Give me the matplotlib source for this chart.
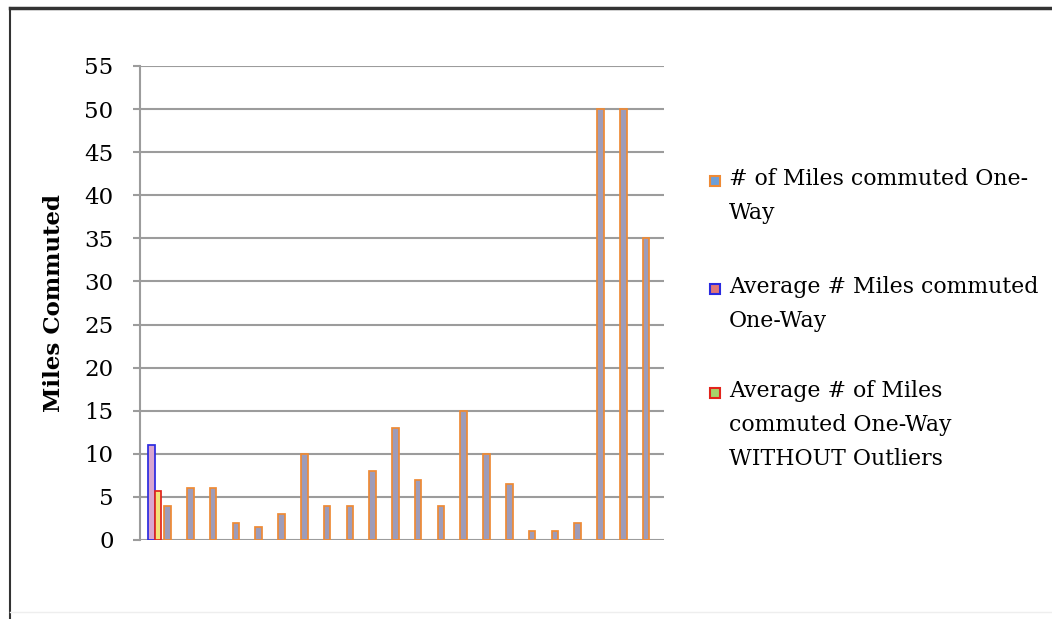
import matplotlib
matplotlib.use('Agg')
import matplotlib.pyplot as plt
from matplotlib.patches import Rectangle
from matplotlib.lines import Line2D

# one-way commute distances per respondent (miles)
miles_one_way = [4, 6, 6, 2, 1.5, 3, 10, 4, 4, 8, 13, 7, 4, 15, 10, 6.5, 1, 1, 2, 50, 50, 35]
avg_all = [11.05]
avg_no_outliers = [5.68]

series_labels = [
    "# of Miles commuted One-\nWay",
    "Average # Miles commuted\nOne-Way",
    "Average # of Miles\ncommuted One-Way\nWITHOUT Outliers",
]
edge_colors = ["#ee8a35", "#2a2ae0", "#e2241c"]
bar_fills = ["#9e9cb9", "#d9a6cf", "#f2e27a"]
legend_fills = ["#6d9fd9", "#e07676", "#a6d46a"]

FONT = "DejaVu Serif"
W, H = 1052, 619

fig = plt.figure(figsize=(W / 100, H / 100), dpi=100)
ax = fig.add_axes([140 / W, 1 - 540 / H, 524 / W, 474 / H])

w = 0.29
cats = list(range(1, len(miles_one_way) + 1))
ax.bar([c - w for c in cats], miles_one_way, width=w, color=bar_fills[0],
       edgecolor=edge_colors[0], linewidth=1.25, zorder=3)
ax.bar([0], avg_all, width=w, color=bar_fills[1],
       edgecolor=edge_colors[1], linewidth=1.25, zorder=3)
ax.bar([w], avg_no_outliers, width=w, color=bar_fills[2],
       edgecolor=edge_colors[2], linewidth=1.25, zorder=3)

ax.set_xlim(-0.5, len(miles_one_way) + 0.5)
ax.set_ylim(0, 55)
ax.set_yticks(range(0, 56, 5))
ax.set_xticks([])
ax.yaxis.grid(True, color="#9c9c9c", linewidth=1.5, zorder=0)
for side in ["top", "right", "bottom"]:
    ax.spines[side].set_visible(False)
ax.spines["left"].set_color("#9c9c9c")
ax.spines["left"].set_linewidth(1.5)
ax.tick_params(axis="y", length=5, width=1.5, color="#9c9c9c", pad=14,
               labelsize=16.5)
for t in ax.get_yticklabels():
    t.set_fontfamily(FONT)
ax.set_ylabel("Miles Commuted", fontfamily=FONT, fontweight="bold",
              fontsize=16.5, labelpad=14)

# legend drawn by hand so each marker sits on the first line of its label
legend_tops = [168, 276, 380]
for top, label, ec, fc in zip(legend_tops, series_labels, edge_colors, legend_fills):
    fig.patches.append(Rectangle((710 / W, 1 - (top + 18) / H), 10 / W, 10 / H,
                                 transform=fig.transFigure, facecolor=fc,
                                 edgecolor=ec, linewidth=1.5))
    fig.text(729 / W, 1 - top / H, label, ha="left", va="top",
             fontfamily=FONT, fontsize=15.8, linespacing=1.72)

# frame around the chart
fig.add_artist(Line2D([10 / W, 1], [1 - 8 / H, 1 - 8 / H], color="#333333",
                      linewidth=2.5, transform=fig.transFigure))
fig.add_artist(Line2D([10 / W, 10 / W], [1 - 8 / H, 0], color="#333333",
                      linewidth=1.5, transform=fig.transFigure))
fig.add_artist(Line2D([10 / W, 1], [1 - 612 / H, 1 - 612 / H], color="#eeeeee",
                      linewidth=1, transform=fig.transFigure))

fig.savefig("out.png", dpi=100)
